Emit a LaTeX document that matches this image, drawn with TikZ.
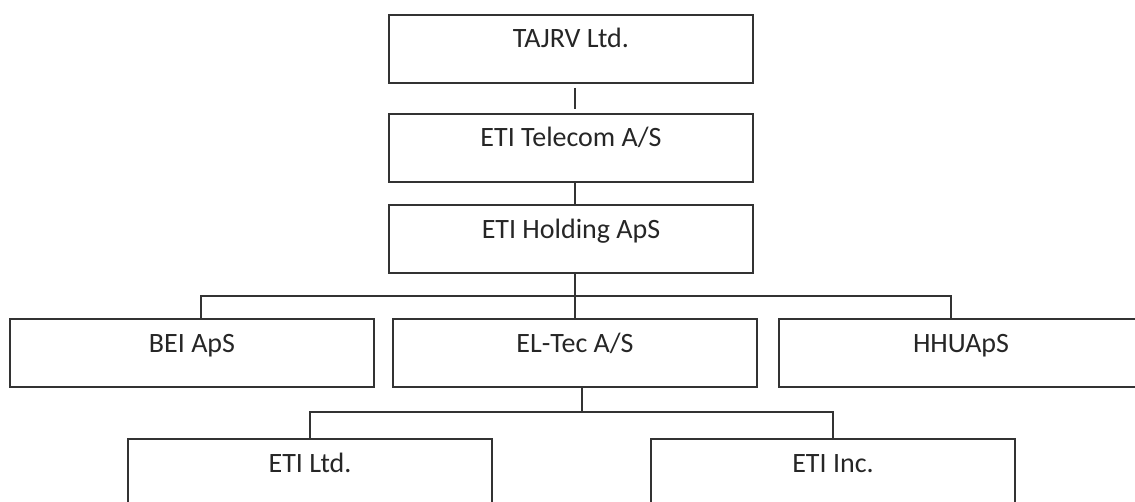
\documentclass[tikz,border=0pt]{standalone}
\usepackage{fontspec}
\setmainfont{Carlito}
\usepackage{tikz}
\usetikzlibrary{positioning, calc}

\begin{document}
\begin{tikzpicture}[x=0.5pt, y=-0.5pt,
    company/.style={rectangle, draw=black!80, line width=1pt, minimum width=182pt,
                    inner sep=0pt, text height=16.5pt, text depth=17.5pt,
                    font=\fontsize{14}{17}\selectfont, text=black!85},
    link/.style={draw=black!80, line width=1pt}
]
    \useasboundingbox (0,0) rectangle (1135,502);
    \clip (0,0) rectangle (1135,502);

    % owner chain
    \node[company] (tajrv) at (571,49) {TAJRV Ltd.};
    \node[company] (telecom) at (571,148) {ETI Telecom A/S};
    \node[company] (holding) at (571,239.5) {ETI Holding ApS};

    % subsidiaries
    \node[company] (bei) at (192,353) {BEI ApS};
    \node[company] (eltec) at (575,353) {EL-Tec A/S};
    \node[company] (hhu) at (961,353) {HHUApS};

    \node[company] (etiltd) at (310,473) {ETI Ltd.};
    \node[company] (etiinc) at (833,473) {ETI Inc.};

    \coordinate (hbus) at (575,296);
    \coordinate (busL) at (201,296);
    \coordinate (busR) at (951,296);
    \coordinate (ebus) at (582,412);

    \draw[link, shorten <=2pt, shorten >=2pt] ([xshift=2pt]tajrv.south) -- ([xshift=2pt]telecom.north);
    \draw[link] ([xshift=2pt]telecom.south) -- ([xshift=2pt]holding.north);
    \draw[link] ([xshift=2pt]holding.south) -- (hbus);
    \draw[link] (busL |- bei.north) -- (busL) -- (busR) -- (busR |- hhu.north);
    \draw[link] (hbus) -- (eltec.north);
    \draw[link] ([xshift=3.5pt]eltec.south) -- (ebus);
    \draw[link] (etiltd.north) |- (ebus) -| (etiinc.north);
\end{tikzpicture}
\end{document}
